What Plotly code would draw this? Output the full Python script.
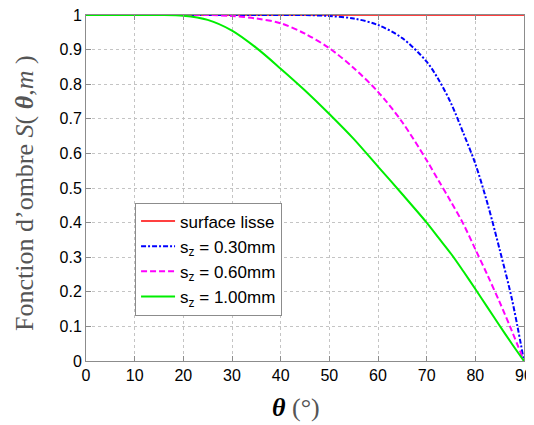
import plotly.graph_objects as go

theta = [0, 5, 10, 15, 20, 25, 30, 35, 40, 45, 50, 55, 60, 65, 70, 72.5, 75, 77.5, 80, 82.5, 85, 87.5, 90]
s_lisse = [1.0] * len(theta)
s_030 = [1, 1, 1, 1, 1, 1, 1, 1, 1, 1, 0.997, 0.99, 0.971, 0.933, 0.865, 0.812, 0.745, 0.66, 0.57, 0.455, 0.322, 0.18, 0.0]
s_060 = [1, 1, 1, 1, 1, 1, 0.997, 0.99, 0.976, 0.946, 0.904, 0.847, 0.778, 0.69, 0.58, 0.52, 0.46, 0.397, 0.323, 0.248, 0.17, 0.087, 0.0]
s_100 = [1, 1, 1, 1, 0.998, 0.986, 0.955, 0.905, 0.845, 0.782, 0.714, 0.642, 0.562, 0.482, 0.4, 0.355, 0.31, 0.26, 0.208, 0.155, 0.102, 0.05, 0.0]

names = ["surface lisse", "s<sub>z</sub> = 0.30mm", "s<sub>z</sub> = 0.60mm", "s<sub>z</sub> = 1.00mm"]
series = [s_lisse, s_030, s_060, s_100]
colors = ["#ff0000", "#0000ff", "#ff00ff", "#00ee00"]
dashes = ["solid", "5px,2px,2px,2px", "6px,3px", "solid"]
widths = [1.5, 2, 2, 2]

fig = go.Figure()
for n, s, c, d, w in zip(names, series, colors, dashes, widths):
    fig.add_trace(go.Scatter(x=theta, y=s, name=n, mode="lines",
                             line=dict(color=c, dash=d, width=w, shape="spline", smoothing=0.9)))

axis_common = dict(showline=True, linecolor="#8c8c8c", linewidth=1, mirror="ticks",
                   ticks="inside", ticklen=5, tickcolor="#8c8c8c", automargin=False,
                   ticklabeloverflow="allow",
                   showgrid=True, gridcolor="#c4c4c4", griddash="dot", gridwidth=1,
                   zeroline=False, tickfont=dict(family="Liberation Sans, Arial", size=16, color="black"))

# page body has an 8px margin: figure spans 8..534 x 8..425
fig.update_layout(
    width=526, height=417,
    margin=dict(l=78, r=10, t=7, b=64),
    paper_bgcolor="white", plot_bgcolor="white",
    showlegend=True,
    legend=dict(x=0.112, y=0.458, xanchor="left", yanchor="top",
                bordercolor="#8c8c8c", borderwidth=1, bgcolor="white",
                font=dict(family="Liberation Sans, Arial", size=17, color="black"),
                itemwidth=34, tracegroupgap=0),
    xaxis=dict(range=[0, 90], tickvals=list(range(0, 91, 10)), **axis_common),
    yaxis=dict(range=[0, 1], tickvals=[i / 10 for i in range(11)],
               ticktext=["0", "0.1", "0.2", "0.3", "0.4", "0.5", "0.6", "0.7", "0.8", "0.9", "1"],
               **axis_common),
)
fig.add_annotation(text="<b><i>θ</i></b><span style='color:#555555'> (°)</span>",
                   xref="paper", yref="paper", x=0.479, y=-0.133, showarrow=False,
                   xanchor="center", yanchor="middle",
                   font=dict(family="Liberation Serif, Times New Roman", size=26, color="black"))
fig.add_annotation(text="Fonction d’ombre <i>S</i>( <b><i>θ</i></b>,<i>m</i> )",
                   xref="paper", yref="paper", x=-0.139, y=0.486, showarrow=False, textangle=-90,
                   xanchor="center", yanchor="middle",
                   font=dict(family="Liberation Serif, Times New Roman", size=26, color="#555555"))

fig.write_html("out.html")
